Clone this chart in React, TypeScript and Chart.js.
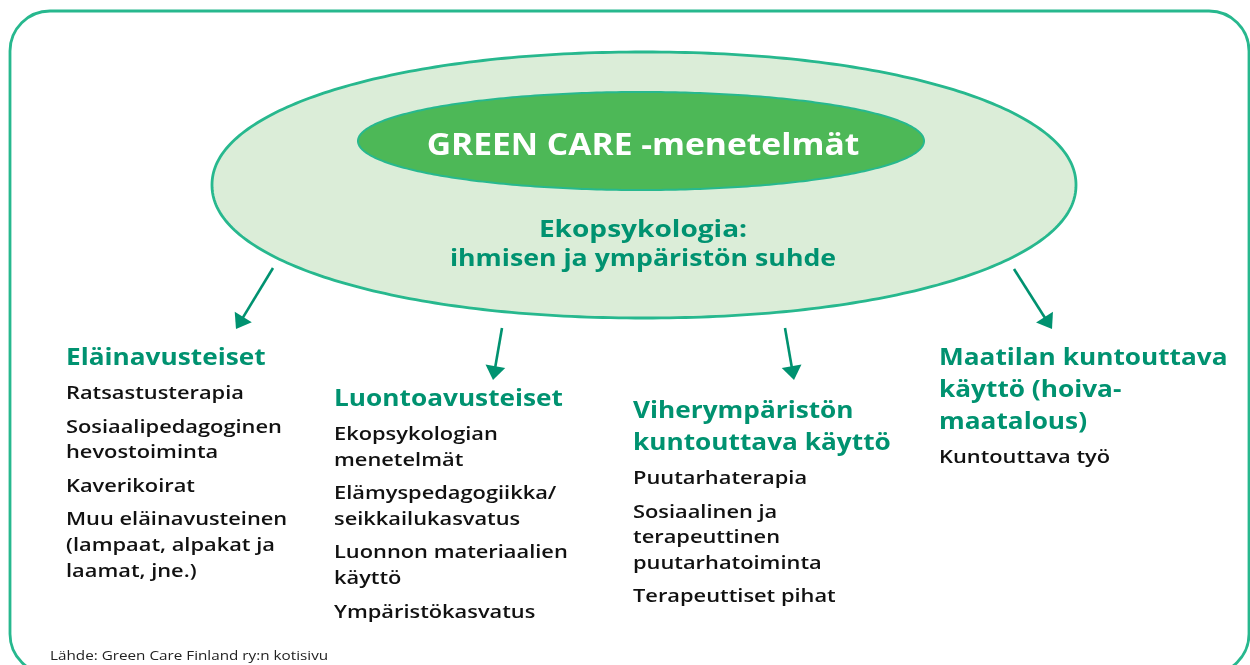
import React, { useEffect, useRef } from "react";
import { Chart, registerables } from "chart.js";

Chart.register(...registerables);

// ---- content ----
const mainTitle = "GREEN CARE -menetelmät";
const subtitleLines = ["Ekopsykologia:", "ihmisen ja ympäristön suhde"];
const categoryTitles = [
  ["Eläinavusteiset"],
  ["Luontoavusteiset"],
  ["Viherympäristön", "kuntouttava käyttö"],
  ["Maatilan kuntouttava", "käyttö (hoiva-", "maatalous)"],
];
const categoryItems = [
  [["Ratsastusterapia"], ["Sosiaalipedagoginen", "hevostoiminta"], ["Kaverikoirat"], ["Muu eläinavusteinen", "(lampaat, alpakat ja", "laamat, jne.)"]],
  [["Ekopsykologian", "menetelmät"], ["Elämyspedagogiikka/", "seikkailukasvatus"], ["Luonnon materiaalien", "käyttö"], ["Ympäristökasvatus"]],
  [["Puutarhaterapia"], ["Sosiaalinen ja", "terapeuttinen", "puutarhatoiminta"], ["Terapeuttiset pihat"]],
  [["Kuntouttava työ"]],
];
const sourceText = "Lähde: Green Care Finland ry:n kotisivu";

// ---- layout (data units of the 1250x665 scales) ----
const frame = { x0: 10, y0: 11, x1: 1249, y1: 674, r: 40 };
const outerEllipse = { cx: 644, cy: 185, rx: 432, ry: 133, n: 2.08 };
const innerEllipse = { cx: 641, cy: 141, rx: 283, ry: 49, n: 2.0 };
const titlePos = { x: 643, y: 155 };
const subtitlePos = { x: 643, y: 237, lh: 29 };
const columnX = [66, 334, 633, 939];
const columnTitleY = [365, 406, 418, 365];
const arrowPaths = [
  [273, 268, 236, 329],
  [502, 328, 493, 380],
  [785, 328, 794, 380],
  [1014, 269, 1052, 329],
];

const FONT = '"Open Sans", "DejaVu Sans", sans-serif';
const TEAL = "#009270";
const LINE = "#27b88e";

function drawText(ctx: any, text: string, x: number, y: number, sx: number) {
  ctx.save();
  ctx.translate(x, y);
  ctx.scale(sx, 1);
  ctx.fillText(text, 0, 0);
  ctx.restore();
}

function superEllipse(ctx: any, cx: number, cy: number, rx: number, ry: number, n: number) {
  ctx.beginPath();
  const N = 360;
  for (let i = 0; i <= N; i++) {
    const t = (i / N) * Math.PI * 2;
    const c = Math.cos(t), s = Math.sin(t);
    const x = cx + rx * Math.sign(c) * Math.pow(Math.abs(c), 2 / n);
    const y = cy + ry * Math.sign(s) * Math.pow(Math.abs(s), 2 / n);
    if (i === 0) ctx.moveTo(x, y);
    else ctx.lineTo(x, y);
  }
  ctx.closePath();
}

const diagramPlugin = {
  id: "diagram",
  beforeDatasetsDraw(chart: any) {
    const ctx = chart.ctx;
    const X = (v: number) => chart.scales.x.getPixelForValue(v);
    const Y = (v: number) => chart.scales.y.getPixelForValue(v);
    ctx.save();
    // frame
    const x0 = X(frame.x0), y0 = Y(frame.y0), x1 = X(frame.x1), y1 = Y(frame.y1), r = frame.r;
    ctx.beginPath();
    ctx.moveTo(x0 + r, y0);
    ctx.lineTo(x1 - r, y0);
    ctx.arcTo(x1, y0, x1, y0 + r, r);
    ctx.lineTo(x1, y1 - r);
    ctx.arcTo(x1, y1, x1 - r, y1, r);
    ctx.lineTo(x0 + r, y1);
    ctx.arcTo(x0, y1, x0, y1 - r, r);
    ctx.lineTo(x0, y0 + r);
    ctx.arcTo(x0, y0, x0 + r, y0, r);
    ctx.closePath();
    ctx.lineWidth = 2.8;
    ctx.strokeStyle = LINE;
    ctx.stroke();
    // outer ellipse
    superEllipse(ctx, X(outerEllipse.cx), Y(outerEllipse.cy), outerEllipse.rx, outerEllipse.ry, outerEllipse.n);
    ctx.fillStyle = "#dbedd8";
    ctx.fill();
    ctx.lineWidth = 2.8;
    ctx.strokeStyle = LINE;
    ctx.stroke();
    // inner ellipse
    superEllipse(ctx, X(innerEllipse.cx), Y(innerEllipse.cy), innerEllipse.rx, innerEllipse.ry, innerEllipse.n);
    ctx.fillStyle = "#4db857";
    ctx.fill();
    ctx.lineWidth = 2;
    ctx.strokeStyle = LINE;
    ctx.stroke();
    // title
    ctx.textBaseline = "alphabetic";
    ctx.textAlign = "center";
    ctx.fillStyle = "#ffffff";
    ctx.font = `700 30px ${FONT}`;
    drawText(ctx, mainTitle, X(titlePos.x), Y(titlePos.y), 1.12);
    ctx.fillStyle = TEAL;
    ctx.font = `700 23px ${FONT}`;
    subtitleLines.forEach((t, i) => drawText(ctx, t, X(subtitlePos.x), Y(subtitlePos.y + i * subtitlePos.lh), i === 0 ? 1.22 : 1.16));
    // columns
    ctx.textAlign = "left";
    categoryTitles.forEach((lines, c) => {
      const x = X(columnX[c]);
      let y = columnTitleY[c];
      ctx.fillStyle = TEAL;
      ctx.font = `700 23px ${FONT}`;
      lines.forEach((t, i) => {
        if (i > 0) y += 32;
        drawText(ctx, t, x, Y(y), 1.14);
      });
      y += 34;
      ctx.fillStyle = "#111111";
      ctx.font = `600 18.5px ${FONT}`;
      categoryItems[c].forEach((item, k) => {
        if (k > 0) y += 33.5;
        item.forEach((t, i) => {
          if (i > 0) y += 25.7;
          drawText(ctx, t, x, Y(y), 1.18);
        });
      });
    });
    // source
    ctx.fillStyle = "#222222";
    ctx.font = `400 13.5px ${FONT}`;
    drawText(ctx, sourceText, X(50), Y(660), 1.13);
    ctx.restore();
  },
  afterDatasetsDraw(chart: any) {
    const ctx = chart.ctx;
    ctx.save();
    ctx.fillStyle = TEAL;
    chart.data.datasets.forEach((_: any, i: number) => {
      const pts = chart.getDatasetMeta(i).data;
      const a = pts[0], b0 = pts[1];
      const ang = Math.atan2(b0.y - a.y, b0.x - a.x);
      const p = arrowPaths[i];
      const tx = chart.scales.x.getPixelForValue(p[2]);
      const ty = chart.scales.y.getPixelForValue(p[3]);
      const len = 14, hw = 10;
      const bx = tx - Math.cos(ang) * len, by = ty - Math.sin(ang) * len;
      ctx.beginPath();
      ctx.moveTo(tx, ty);
      ctx.lineTo(bx + Math.sin(ang) * hw, by - Math.cos(ang) * hw);
      ctx.lineTo(bx - Math.sin(ang) * hw, by + Math.cos(ang) * hw);
      ctx.closePath();
      ctx.fill();
    });
    ctx.restore();
  },
};

export default function App() {
  const ref = useRef<HTMLCanvasElement>(null);
  useEffect(() => {
    document.body.style.margin = "0";
    const canvas = ref.current!;
    const chart = new Chart(canvas, {
      type: "scatter",
      data: {
        datasets: arrowPaths.map((p) => ({
          data: [
            { x: p[0], y: p[1] },
            { x: p[2] - (p[2] - p[0]) * 0.12, y: p[3] - (p[3] - p[1]) * 0.12 },
          ],
          showLine: true,
          borderColor: TEAL,
          borderWidth: 2.6,
          pointRadius: 0,
          fill: false,
        })),
      },
      options: {
        responsive: false,
        maintainAspectRatio: false,
        animation: false,
        events: [],
        layout: { padding: 0 },
        scales: {
          x: { type: "linear", min: 0, max: 1250, display: false },
          y: { type: "linear", min: 0, max: 665, reverse: true, display: false },
        },
        plugins: { legend: { display: false }, tooltip: { enabled: false } },
      },
      plugins: [diagramPlugin],
    } as any);
    return () => chart.destroy();
  }, []);
  return (
    <div style={{ width: 1250, height: 665, background: "#fff" }}>
      <canvas ref={ref} width={1250} height={665} style={{ display: "block" }} />
    </div>
  );
}
